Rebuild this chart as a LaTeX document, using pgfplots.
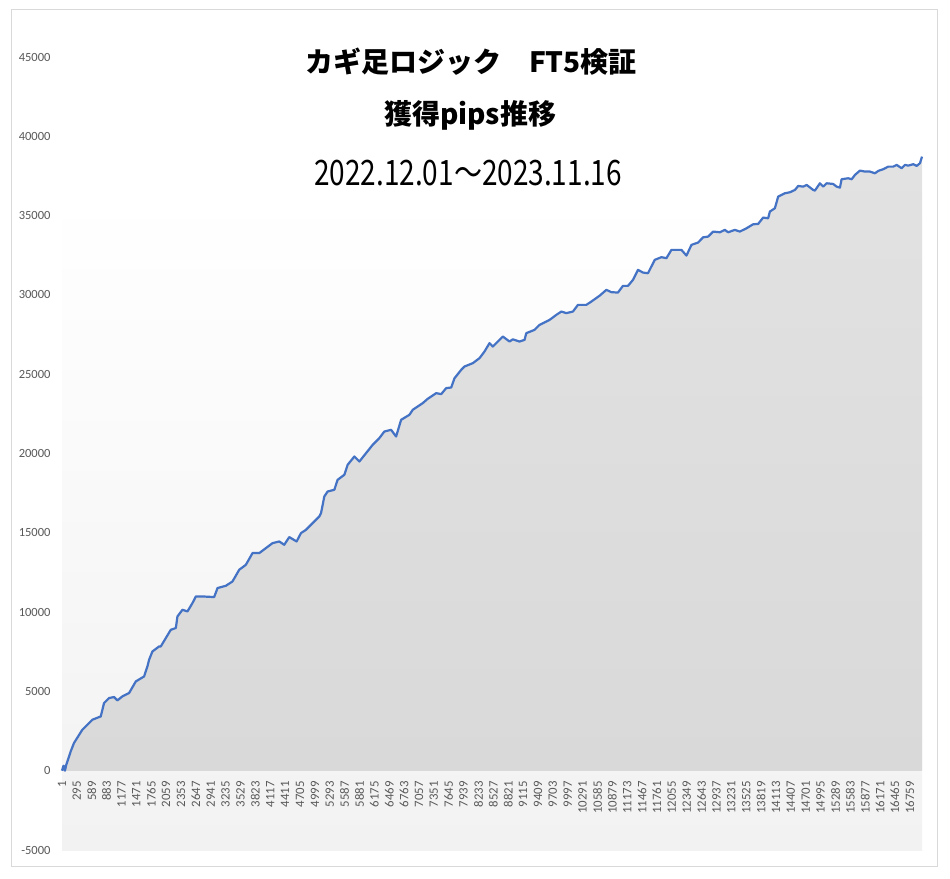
\documentclass[border=0pt]{standalone}
\usepackage{pgfplots}
\pgfplotsset{compat=1.18}
\usepackage{fontspec}
\setmainfont{Carlito}
\newfontfamily\jp{Noto Sans CJK JP}
\definecolor{framegray}{HTML}{D9D9D9}
\definecolor{ticktext}{HTML}{595959}
\definecolor{lineblue}{HTML}{4472C4}
\definecolor{bgbot}{HTML}{F2F2F2}
\definecolor{areatop}{HTML}{E2E2E2}
\definecolor{areabot}{HTML}{D9D9D9}
\begin{document}
\begin{tikzpicture}[x=1pt,y=1pt]
\useasboundingbox (0,0) rectangle (950,878);
\fill[white] (0,0) rectangle (950,878);
\draw[color=framegray, line width=0.9pt] (11.5,12) rectangle (937,869);
\path[top color=white, bottom color=bgbot] (62,28) rectangle (922,685);
\begin{axis}[
  at={(62pt,28pt)}, anchor=south west,
  width=860pt, height=793pt, scale only axis,
  xmin=1, xmax=17000, ymin=-5000, ymax=45000,
  axis x line=middle, axis y line=left,
  x axis line style={draw=framegray, line width=0.6pt, -},
  y axis line style={draw=none},
  hide obscured x ticks=false, hide obscured y ticks=false,
  major tick length=0pt,
  scaled x ticks=false, scaled y ticks=false,
  /pgf/number format/assume math mode=true,
  /pgf/number format/1000 sep={},
  /pgf/number format/fixed,
  ytick={-5000,0,5000,10000,15000,20000,25000,30000,35000,40000,45000},
  xtick={1,295,589,883,1177,1471,1765,2059,2353,2647,2941,3235,3529,3823,4117,4411,4705,4999,5293,5587,5881,6175,6469,6763,7057,7351,7645,7939,8233,8527,8821,9115,9409,9703,9997,10291,10585,10879,11173,11467,11761,12055,12349,12643,12937,13231,13525,13819,14113,14407,14701,14995,15289,15583,15877,16171,16465,16759},
  yticklabel style={font=\fontsize{12.5}{14}\selectfont, text=ticktext, anchor=east, xshift=-8pt},
  xticklabel style={font=\fontsize{12.8}{14}\selectfont, text=ticktext, rotate=90, anchor=east, xshift=-7pt},
  clip=false,
]
\pgfplotstableread{
x y
1 0
31 315
60 0
80 315
173 1217
238 1745
403 2584
470 2793
569 3107
601 3214
767 3422
832 4267
931 4582
1030 4645
1095 4431
1194 4683
1327 4897
1460 5628
1624 5944
1689 6574
1723 6996
1788 7519
1921 7835
1954 7835
2053 8364
2152 8887
2251 8994
2283 9726
2382 10148
2481 10041
2580 10570
2647 10986
2778 10986
3009 10948
3075 11516
3241 11661
3371 11932
3504 12669
3636 12984
3767 13721
3900 13721
4163 14349
4296 14453
4394 14245
4493 14730
4638 14453
4725 14982
4824 15190
4923 15505
5087 16029
5121 16243
5186 17289
5251 17604
5384 17712
5449 18342
5582 18657
5647 19287
5780 19811
5879 19496
6011 20024
6142 20547
6274 20971
6373 21386
6506 21493
6605 21070
6704 22124
6868 22439
6934 22754
7132 23176
7230 23450
7397 23805
7496 23743
7595 24121
7694 24160
7759 24743
7892 25275
7957 25483
8121 25696
8254 26011
8352 26429
8451 26958
8517 26743
8715 27374
8847 27059
8913 27200
9045 27059
9144 27166
9178 27587
9342 27796
9441 28111
9574 28319
9639 28426
9772 28741
9871 28950
9969 28849
10100 28950
10199 29372
10365 29372
10464 29580
10628 29950
10761 30317
10860 30172
10990 30147
11089 30569
11188 30569
11287 30948
11386 31578
11485 31408
11584 31366
11717 32208
11849 32378
11948 32315
12047 32839
12245 32839
12344 32478
12443 33154
12574 33300
12673 33630
12772 33676
12871 33991
13004 33948
13103 34099
13168 33948
13300 34099
13399 33991
13531 34200
13662 34453
13761 34473
13860 34875
13959 34830
13993 35254
14092 35463
14157 36198
14225 36305
14290 36408
14389 36470
14488 36617
14553 36869
14652 36826
14719 36933
14850 36617
14883 36575
14982 37037
15047 36826
15114 37037
15245 36995
15312 36826
15378 36763
15411 37292
15542 37354
15610 37292
15675 37566
15774 37837
15873 37774
15972 37774
16070 37669
16136 37818
16234 37925
16333 38089
16432 38089
16499 38196
16598 37984
16664 38196
16729 38152
16828 38240
16895 38133
16960 38303
17000 38719
}\pips
\addplot[draw=none, top color=areatop, bottom color=areabot] table {\pips} \closedcycle;
\addplot[lineblue, line width=2.2pt, line join=round, mark=none] table {\pips};
\end{axis}
\node[font=\jp\bfseries\fontsize{28}{34}\selectfont] at (471,816) {カギ足ロジック　FT5検証};
\node[font=\jp\bfseries\fontsize{28}{34}\selectfont] at (470,763) {獲得pips推移};
\node[font=\jp\fontsize{28}{34}\selectfont] at (468,705) {\scalebox{1}[1.25]{2022.12.01～2023.11.16}};
\end{tikzpicture}
\end{document}
